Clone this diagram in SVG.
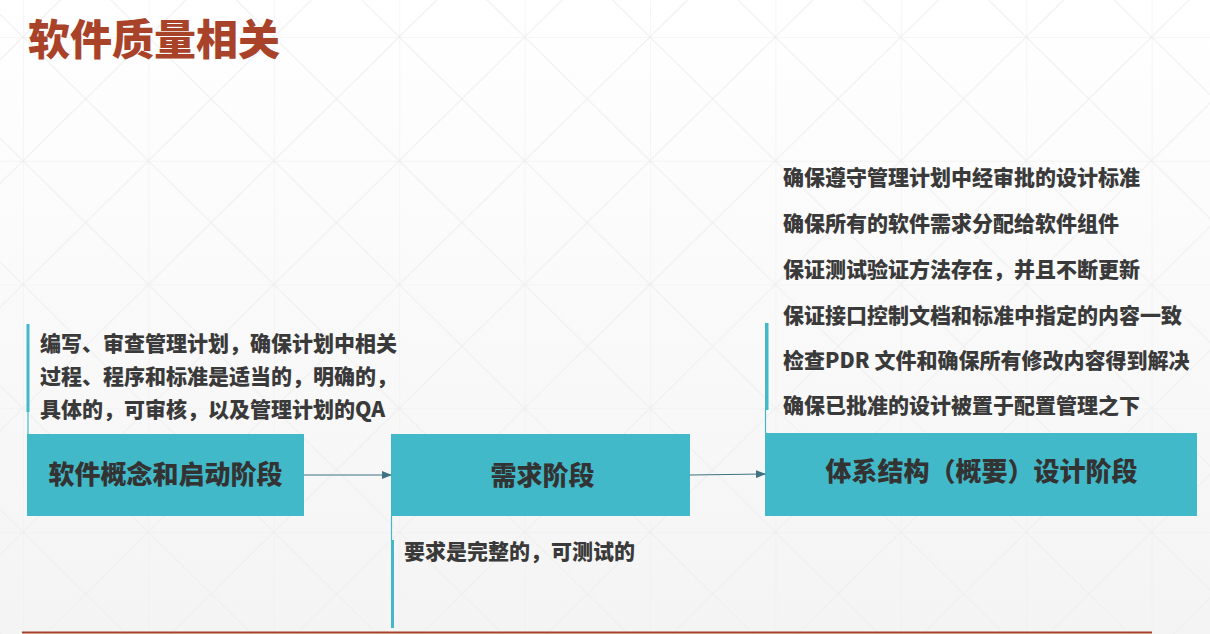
<svg xmlns="http://www.w3.org/2000/svg" width="1210" height="634" viewBox="0 0 1210 634">
  <defs>
    <linearGradient id="bg" x1="0" y1="0" x2="0" y2="1">
      <stop offset="0" stop-color="#ffffff"/>
      <stop offset="1" stop-color="#f4f4f4"/>
    </linearGradient>
    <pattern id="grid" patternUnits="userSpaceOnUse" x="23" y="37" width="125.4" height="123.75">
      <path d="M0 0 H125.4 M0 0 V123.75 M0 0 L125.4 123.75 M125.4 0 L0 123.75" fill="none" stroke="#eeeeee" stroke-width="1"/>
    </pattern>
    <marker id="arr" markerWidth="10" markerHeight="8" refX="9" refY="4" orient="auto" markerUnits="userSpaceOnUse">
      <path d="M0 0 L10 4 L0 8 Z" fill="#3f7383"/>
    </marker>
    <style>
      .box { fill: #42b9c8; }
      .lbl { font-family: "Noto Sans CJK SC", "Noto Sans", sans-serif; font-weight: 900; font-size: 26px; fill: #333333; text-anchor: middle; }
      .txt { font-family: "Noto Sans CJK SC", "Noto Sans", sans-serif; font-weight: 900; font-size: 21px; fill: #3a3a3a; }
      .bar { fill: #42b9c8; }
      .thin { stroke: #42b9c8; stroke-width: 1.2; fill: none; }
      .conn { stroke: #3f7383; stroke-width: 1.2; fill: none; }
    </style>
  </defs>

  <rect x="0" y="0" width="1210" height="634" fill="url(#bg)"/>
  <rect x="0" y="0" width="1210" height="634" fill="url(#grid)"/>

  <text x="28" y="55" font-family="'Noto Sans CJK SC', sans-serif" font-weight="900" font-size="42" fill="#a8432a">软件质量相关</text>

  <line x1="22" y1="632.5" x2="1152" y2="632.5" stroke="#a8432a" stroke-width="2"/>

  <g id="node-concept">
    <rect x="27" y="434" width="277" height="82" class="box"/>
    <text x="165.5" y="484" class="lbl">软件概念和启动阶段</text>
  </g>

  <g id="node-requirements">
    <rect x="391" y="434" width="299" height="82" class="box"/>
    <text x="542.5" y="485" class="lbl">需求阶段</text>
  </g>

  <g id="node-architecture">
    <rect x="765" y="433" width="432" height="83" class="box"/>
    <text x="981.5" y="481" class="lbl">体系结构（概要）设计阶段</text>
  </g>

  <g id="note-concept">
    <rect x="26.5" y="324" width="3" height="88" class="bar"/>
    <line x1="28" y1="412" x2="28" y2="434" class="thin"/>
    <text class="txt"><tspan x="40" y="351">编写、审查管理计划，确保计划中相关</tspan><tspan x="40" y="384">过程、程序和标准是适当的，明确的，</tspan><tspan x="40" y="417">具体的，可审核，以及管理计划的QA</tspan></text>
  </g>

  <g id="note-requirements">
    <line x1="391.5" y1="516" x2="391.5" y2="540" class="thin"/>
    <rect x="391" y="540" width="3" height="88" class="bar"/>
    <text x="404" y="559" class="txt">要求是完整的，可测试的</text>
  </g>

  <g id="note-architecture">
    <rect x="765" y="323" width="3.5" height="87" class="bar"/>
    <line x1="765.5" y1="410" x2="765.5" y2="433" class="thin"/>
    <text class="txt"><tspan x="783" y="185">确保遵守管理计划中经审批的设计标准</tspan><tspan x="783" y="231">确保所有的软件需求分配给软件组件</tspan><tspan x="783" y="277">保证测试验证方法存在，并且不断更新</tspan><tspan x="783" y="323">保证接口控制文档和标准中指定的内容一致</tspan><tspan x="783" y="368">检查PDR 文件和确保所有修改内容得到解决</tspan><tspan x="783" y="413">确保已批准的设计被置于配置管理之下</tspan></text>
  </g>

  <g id="connectors">
    <line x1="304" y1="475" x2="391" y2="475" class="conn" marker-end="url(#arr)"/>
    <line x1="690" y1="475" x2="765" y2="474" class="conn" marker-end="url(#arr)"/>
  </g>
</svg>
